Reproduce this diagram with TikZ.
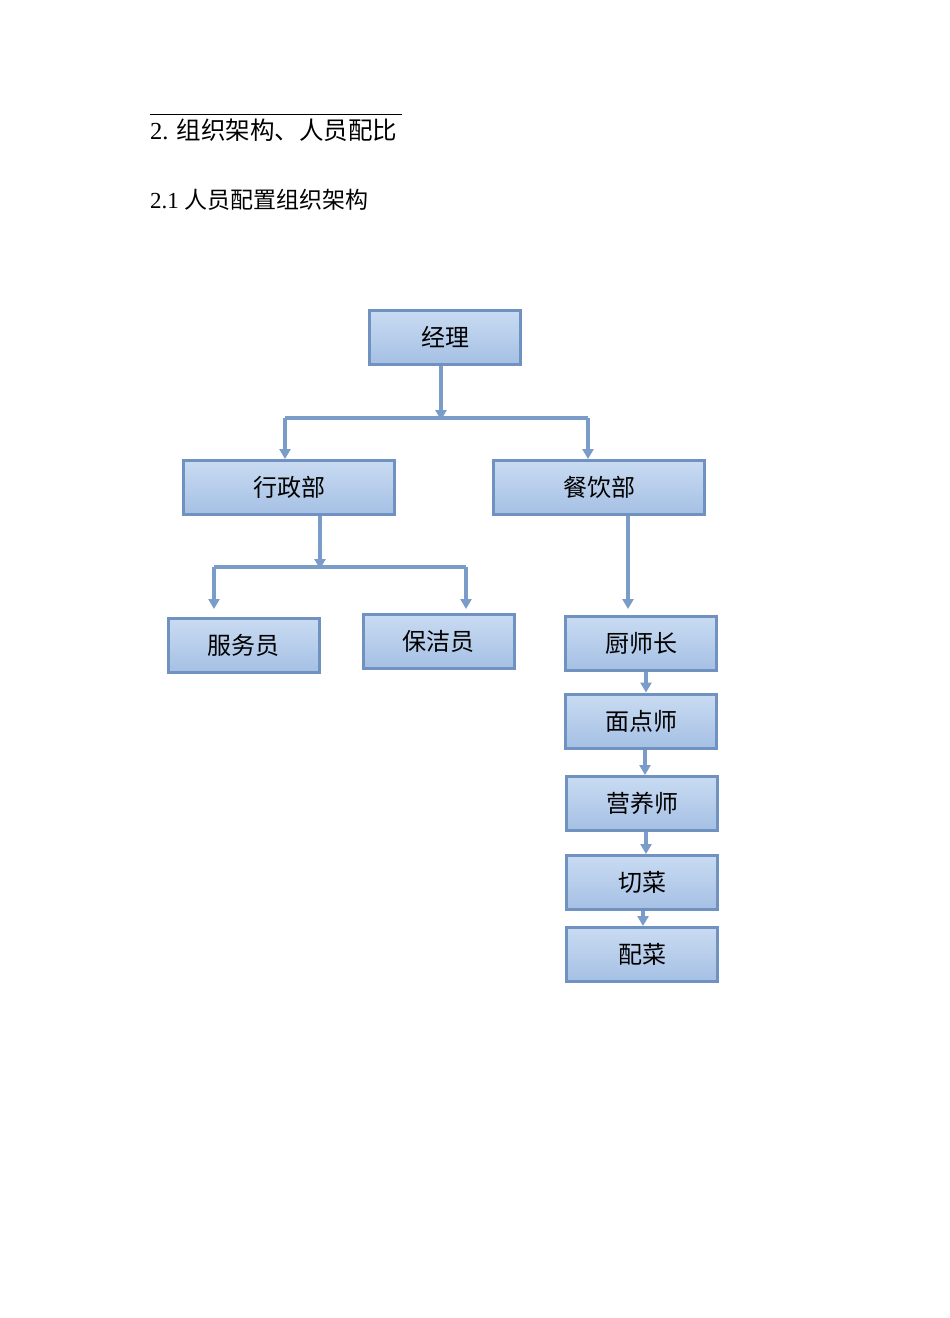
\documentclass[tikz,border=0pt]{standalone}
\usepackage{fontspec}
\setmainfont{Liberation Serif}
\newfontfamily\cjk{Noto Sans CJK SC}
\usetikzlibrary{arrows.meta,positioning,calc}
\definecolor{BoxTop}{HTML}{C9DBF2}
\definecolor{BoxBottom}{HTML}{A5C0E4}
\definecolor{BoxLine}{HTML}{6F92C0}
\definecolor{LinkBlue}{HTML}{7A9CC8}

\begin{document}
\begin{tikzpicture}[x=1pt,y=-1pt,
  box/.style={draw=BoxLine, line width=3pt, top color=BoxTop, bottom color=BoxBottom,
    minimum width=151pt, minimum height=54pt, inner sep=0pt, font=\cjk\fontsize{24}{26}\selectfont},
  widebox/.style={box, minimum width=211pt},
  arr/.style={-{Triangle[length=10pt,width=11pt]}, line width=3.2pt, LinkBlue},
  link/.style={line width=3.2pt, LinkBlue},
  head/.style={anchor=west, inner sep=0pt}
]
\useasboundingbox (0,0) rectangle (950,1318);

% heading
\draw[line width=0.8pt] (150,114) -- (402,114);
\node[head, font=\fontsize{24.5}{27}\selectfont] (h1) at (150,130) {2. {\cjk 组织架构、人员配比}};
\node[head, font=\fontsize{23}{26}\selectfont] (h2) at (150,200) {2.1 {\cjk 人员配置组织架构}};

% boxes
\node[box] (mgr) at (445,337.5) {经理};
\node[widebox] (admin) at (289,487.5) {行政部};
\node[widebox] (food) at (599,487.5) {餐饮部};
\node[box] (waiter) at (243.5,645.5) {服务员};
\node[box] (clean) at (438.5,641.5) {保洁员};
\node[box] (chef) at (641,643.5) {厨师长};
\node[box] (pastry) at (641,721) {面点师};
\node[box] (diet) at (642,803.5) {营养师};
\node[box] (cut) at (642,882.5) {切菜};
\node[box] (mix) at (642,954.5) {配菜};

% manager -> departments
\coordinate (j1) at (441,420);
\coordinate (j1l) at (285,418);
\coordinate (j1r) at (588,418);
\draw[arr] (j1 |- mgr.south) -- (j1);
\draw[link] (j1l) -- (j1r);
\draw[arr] (j1l) -- (j1l |- admin.north);
\draw[arr] (j1r) -- (j1r |- food.north);

% admin -> staff
\coordinate (j2) at (320,569);
\coordinate (j2l) at (214,567);
\coordinate (j2r) at (466,567);
\draw[arr] (j2 |- admin.south) -- (j2);
\draw[link] (j2l) -- (j2r);
\draw[arr] (j2l) -- ($(j2l |- waiter.north)+(0,-8)$);
\draw[arr] (j2r) -- ($(j2r |- clean.north)+(0,-4)$);

% food -> kitchen chain
\coordinate (k0) at (628,516);
\draw[arr] (k0) -- ($(k0 |- chef.north)+(0,-6)$);
\draw[arr] ($(chef.south)+(5,0)$) -- ($(pastry.north)+(5,0)$);
\draw[arr] ($(pastry.south)+(4,0)$) -- ($(diet.north)+(3,0)$);
\draw[arr] ($(diet.south)+(4,0)$) -- ($(cut.north)+(4,0)$);
\draw[arr] ($(cut.south)+(1,0)$) -- ($(mix.north)+(1,0)$);
\end{tikzpicture}
\end{document}
